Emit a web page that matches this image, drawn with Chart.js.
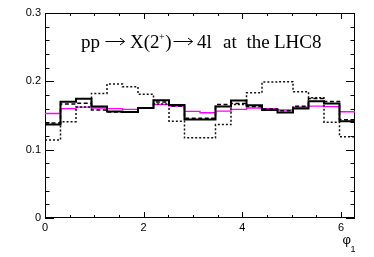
<!DOCTYPE html>
<html>
<head>
<meta charset="utf-8">
<script src="https://cdn.jsdelivr.net/npm/chart.js@4"></script>
<style>
html,body{margin:0;padding:0;background:#fff;}
#wrap{width:374px;height:257px;}
</style>
</head>
<body>
<div id="wrap"><canvas id="c" width="374" height="257"></canvas></div>
<script>
// ---- data ----
const nBins = 20;
const xMin = 0;
const xMax = 2 * Math.PI;
const solidVals  = [0.137, 0.170, 0.1745, 0.163, 0.156, 0.155, 0.161, 0.1725, 0.1655, 0.144, 0.144, 0.163, 0.172, 0.165, 0.158, 0.1544, 0.1603, 0.171, 0.1675, 0.1415];
const dashedVals = [0.139, 0.167, 0.168, 0.158, 0.155, 0.155, 0.161, 0.1696, 0.164, 0.146, 0.146, 0.166, 0.1676, 0.163, 0.1595, 0.157, 0.1637, 0.175, 0.1706, 0.1437];
const dottedVals = [0.114, 0.141, 0.1623, 0.1823, 0.196, 0.192, 0.181, 0.167, 0.1417, 0.1173, 0.1173, 0.1368, 0.166, 0.1833, 0.199, 0.1994, 0.1848, 0.176, 0.1403, 0.1188];
const magentaVals = [0.153, 0.160, 0.1623, 0.161, 0.160, 0.159, 0.161, 0.166, 0.164, 0.156, 0.154, 0.1564, 0.159, 0.161, 0.160, 0.158, 0.162, 0.1637, 0.163, 0.1554];
const xTickVals = [0, 2, 4, 6];
const yTickVals = [0, 0.1, 0.2, 0.3];
const xTickLabels = ["0", "2", "4", "6"];
const yTickLabels = ["0", "0.1", "0.2", "0.3"];
// title pieces: [text, kind]  ("\u2192" drawn as a ROOT-style arrow)
const titlePieces = [
  ["pp", "t"], ["\u2192", "arrow"], ["X(2", "t"], ["+", "sup"], [")", "t"], ["\u2192", "arrow"],
  ["4l", "t"], ["at", "t"], ["the", "t"], ["LHC8", "t"]
];
const xAxisTitle = "\u03C6";
const xAxisSub = "1";

function histPoints(vals) {
  const w = (xMax - xMin) / vals.length;
  const pts = vals.map((v, i) => ({x: xMin + i * w, y: v}));
  pts.push({x: xMax, y: vals[vals.length - 1]});
  return pts;
}

const titleX = [81, 104, 130, null, null, 172, 197, 223, 246.5, 274];

const framePlugin = {
  id: 'rootFrame',
  beforeDatasetsDraw(chart) {
    const ctx = chart.ctx, a = chart.chartArea;
    const xs = chart.scales.x, ys = chart.scales.y;
    ctx.save();
    ctx.strokeStyle = '#000';
    ctx.lineWidth = 1;
    ctx.strokeRect(a.left + 0.5, a.top + 0.5, a.right - a.left - 1, a.bottom - a.top - 1);
    ctx.beginPath();
    for (let v = 0; v <= xMax + 1e-9; v += 0.5) {
      const px = Math.round(xs.getPixelForValue(v)) + 0.5;
      const major = Math.abs(v - Math.round(v / 2) * 2) < 1e-9;
      const L = major ? 6 : 3;
      ctx.moveTo(px, a.bottom); ctx.lineTo(px, a.bottom - L);
      ctx.moveTo(px, a.top); ctx.lineTo(px, a.top + L);
    }
    for (let k = 0; k <= 15; k++) {
      const v = k * 0.02;
      const py = Math.round(ys.getPixelForValue(v)) + 0.5;
      const major = k % 5 === 0;
      const L = major ? 9 : 4.5;
      ctx.moveTo(a.left, py); ctx.lineTo(a.left + L, py);
      ctx.moveTo(a.right, py); ctx.lineTo(a.right - L, py);
    }
    ctx.stroke();
    ctx.restore();
  },
  afterDraw(chart) {
    const ctx = chart.ctx;
    ctx.save();
    ctx.fillStyle = '#000';
    ctx.strokeStyle = '#000';
    ctx.textBaseline = 'alphabetic';
    ctx.textAlign = 'left';
    const base = 48;
    const big = '19px "Liberation Serif"';
    let cur = 81;
    titlePieces.forEach((p, i) => {
      const [txt, kind] = p;
      const x0 = titleX[i] != null ? titleX[i] : cur;
      if (kind === 'arrow') {
        const ay = base - 6.5, s = x0 + 1.5, w = 19;
        ctx.lineWidth = 1;
        ctx.beginPath();
        ctx.moveTo(s, ay); ctx.lineTo(s + w, ay);
        ctx.moveTo(s + w - 4.5, ay - 3.5); ctx.lineTo(s + w, ay); ctx.lineTo(s + w - 4.5, ay + 3.5);
        ctx.stroke();
        cur = x0 + w + 3;
      } else if (kind === 'sup') {
        ctx.font = '10px "Liberation Serif"';
        ctx.fillText(txt, x0 - 0.5, base - 8.5);
        cur = x0 - 0.5 + ctx.measureText(txt).width + 0.5;
      } else {
        ctx.font = big;
        ctx.fillText(txt, x0, base);
        cur = x0 + ctx.measureText(txt).width;
      }
    });
    ctx.font = '13px "Liberation Sans"';
    ctx.fillText(xAxisTitle, 342.5, 244);
    ctx.font = '9px "Liberation Sans"';
    ctx.fillText(xAxisSub, 350.5, 252);
    ctx.restore();
  }
};

const common = {pointRadius: 0, pointHoverRadius: 0, tension: 0, stepped: 'before', fill: false, borderCapStyle: 'butt'};

new Chart(document.getElementById('c'), {
  type: 'line',
  data: {
    datasets: [
      Object.assign({label: 'solid', data: histPoints(solidVals), borderColor: '#000', borderWidth: 2, order: 0}, common),
      Object.assign({label: 'dashed', data: histPoints(dashedVals), borderColor: '#000', borderWidth: 1.5, borderDash: [4, 2.5], order: 1}, common),
      Object.assign({label: 'dotted', data: histPoints(dottedVals), borderColor: '#111', borderWidth: 1.5, borderDash: [2, 2], order: 2}, common),
      Object.assign({label: 'magenta', data: histPoints(magentaVals), borderColor: '#ff00ff', borderWidth: 1.4, order: 3}, common)
    ]
  },
  options: {
    responsive: false,
    animation: false,
    events: [],
    layout: {padding: {left: 0, right: 19, top: 13, bottom: 0}},
    plugins: {legend: {display: false}, tooltip: {enabled: false}, title: {display: false}},
    scales: {
      x: {
        type: 'linear', min: xMin, max: xMax,
        grid: {display: false, drawTicks: false, tickLength: 0},
        border: {display: false},
        afterBuildTicks: s => { s.ticks = xTickVals.map(v => ({value: v})); },
        afterFit: s => { s.height = 39; },
        ticks: {
          padding: 3, maxRotation: 0, autoSkip: false, color: '#000',
          font: {family: '"Liberation Sans"', size: 11},
          callback: (v) => xTickLabels[xTickVals.indexOf(v)]
        }
      },
      y: {
        type: 'linear', min: 0, max: 0.3,
        grid: {display: false, drawTicks: false, tickLength: 0},
        border: {display: false},
        afterBuildTicks: s => { s.ticks = yTickVals.map(v => ({value: v})); },
        afterFit: s => { s.width = 45; },
        ticks: {
          padding: 4, autoSkip: false, color: '#000',
          font: {family: '"Liberation Sans"', size: 11},
          callback: (v) => yTickLabels[yTickVals.indexOf(v)]
        }
      }
    }
  },
  plugins: [framePlugin]
});
</script>
</body>
</html>
